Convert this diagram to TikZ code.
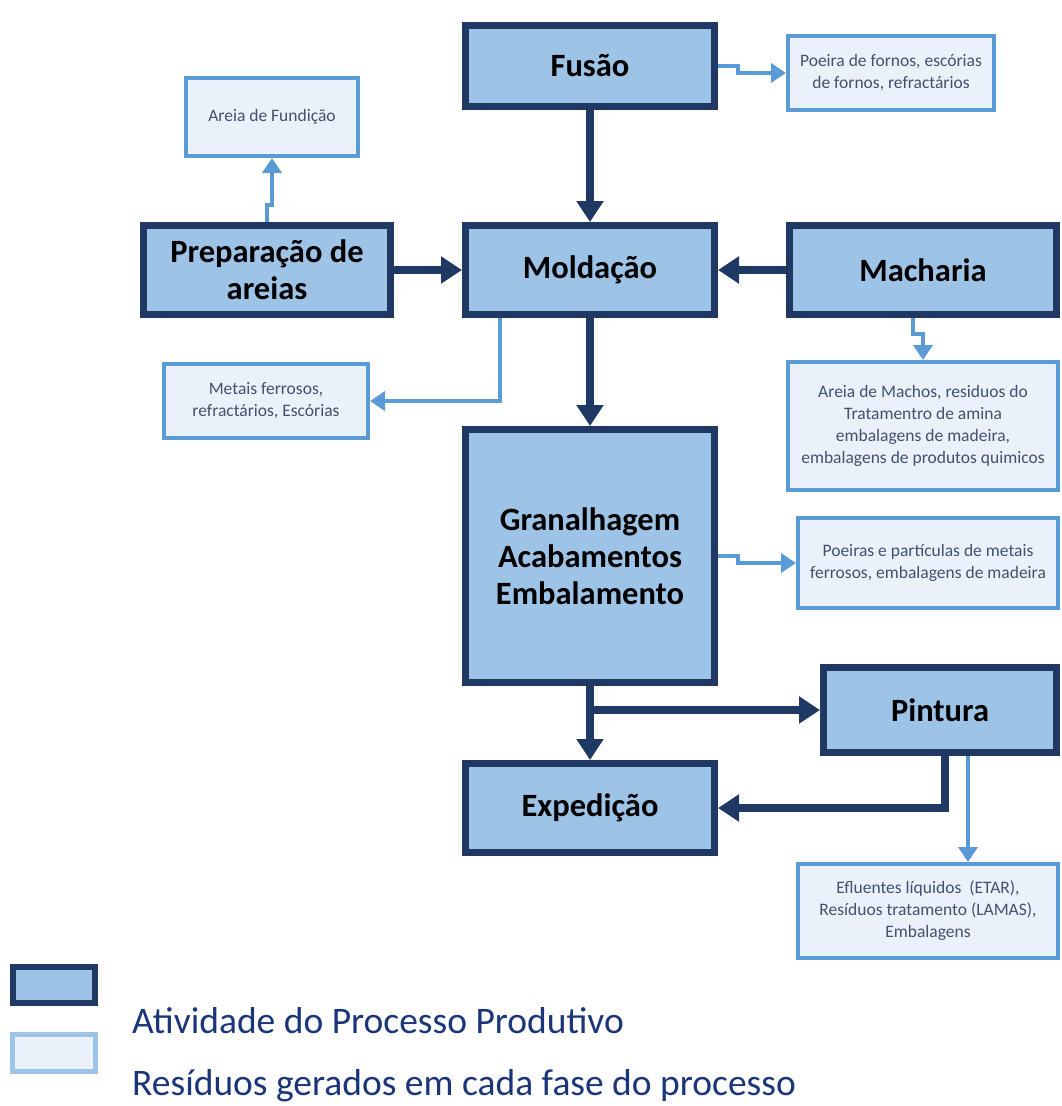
\documentclass[tikz,border=0pt]{standalone}
\usepackage{fontspec}
\setmainfont{Carlito}
\usetikzlibrary{arrows.meta,shadows,calc}
\definecolor{procborder}{HTML}{1F3864}
\definecolor{procfill}{HTML}{9DC3E6}
\definecolor{wasteborder}{HTML}{5B9BD5}
\definecolor{wastefill}{HTML}{EAF1FA}
\definecolor{wastetext}{HTML}{44506C}
\definecolor{legtext}{HTML}{1A3579}
\begin{document}
\begin{tikzpicture}[x=1pt,y=-1pt,
  proc/.style={draw=procborder,fill=procfill,line width=7pt,rectangle,align=center,
    font=\fontsize{32.5}{37}\selectfont\bfseries,text=black,
    drop shadow={shadow xshift=3pt,shadow yshift=-3pt,opacity=0.25}},
  waste/.style={draw=wasteborder,fill=wastefill,line width=4pt,rectangle,align=center,
    font=\fontsize{17.5}{22}\selectfont,text=wastetext},
  darr/.style={draw=procborder,line width=8pt,-{Triangle[length=21pt,width=26pt]}},
  larr/.style={draw=wasteborder,line width=4pt,-{Triangle[length=15pt,width=19pt]}},
  legtxt/.style={font=\fontsize{37.5}{42}\selectfont,text=legtext,anchor=base west,inner sep=0pt}
]
\useasboundingbox (0,0) rectangle (1062,1106);
% process boxes
\node[proc,minimum width=249pt,minimum height=81pt] (fusao) at (590,66) {Fusão};
\node[proc,minimum width=247pt,minimum height=89pt] (prep) at (267,270) {Preparação de\\areias};
\node[proc,minimum width=249pt,minimum height=89pt] (mold) at (590,270) {Moldação};
\node[proc,minimum width=267pt,minimum height=89pt] (mach) at (923,270) {Macharia};
\node[proc,minimum width=249pt,minimum height=253pt] (gran) at (590,556) {Granalhagem\\Acabamentos\\Embalamento};
\node[proc,minimum width=233pt,minimum height=85pt] (pint) at (940,710) {Pintura};
\node[proc,minimum width=249pt,minimum height=89pt] (exped) at (590,808) {Expedição};
% waste boxes
\node[waste,minimum width=206pt,minimum height=74pt] (poeira) at (891,73) {Poeira de fornos, escórias\\de fornos, refractários};
\node[waste,minimum width=172pt,minimum height=78pt] (areiaf) at (272,117) {Areia de Fundição};
\node[waste,minimum width=204pt,minimum height=74pt] (metais) at (266,401) {Metais ferrosos,\\refractários, Escórias};
\node[waste,minimum width=270pt,minimum height=128pt] (machos) at (923,426) {Areia de Machos, residuos do\\Tratamentro de amina\\embalagens de madeira,\\embalagens de produtos quimicos};
\node[waste,minimum width=260pt,minimum height=90pt] (poeiras) at (928,563) {Poeiras e partículas de metais\\ferrosos, embalagens de madeira};
\node[waste,minimum width=260pt,minimum height=94pt] (eflu) at (928,911) {Efluentes líquidos~~(ETAR),\\Resíduos tratamento (LAMAS),\\Embalagens};
% dark connectors
\draw[darr] (fusao) -- (mold);
\draw[darr] (prep) -- (mold);
\draw[darr] (mach) -- (mold);
\draw[darr] (mold) -- (gran);
\draw[darr] (gran) -- (exped);
\draw[darr] (gran.south) |- (pint.west);
\draw[darr] ([xshift=5pt]pint.south) |- (exped.east);
% light connectors
\draw[larr] (fusao.east) -- ++(20,0) |- (poeira.west);
\draw[larr] (prep.north) -- ++(0,-17) -| (areiaf.south);
\draw[larr] ([xshift=-90pt]mold.south) |- (metais.east);
\draw[larr] ([xshift=-10pt]mach.south) -- ++(0,16) -| (machos.north);
\draw[larr] (gran.east) -- ++(20,0) |- (poeiras.west);
\draw[larr] ([xshift=28pt]pint.south) -- ([xshift=28pt]pint.south |- eflu.north);
% legend
\node[draw=procborder,fill=procfill,line width=6pt,minimum width=82pt,minimum height=36pt] (legproc) at (54,985) {};
\node[draw=procfill,fill=wastefill,line width=5pt,minimum width=83pt,minimum height=37pt] (legwaste) at (54,1053) {};
\node[legtxt] (legproctxt) at (132,1033) {Atividade do Processo Produtivo};
\node[legtxt] (legwastetxt) at (132,1095) {Resíduos gerados em cada fase do processo};
\end{tikzpicture}
\end{document}
